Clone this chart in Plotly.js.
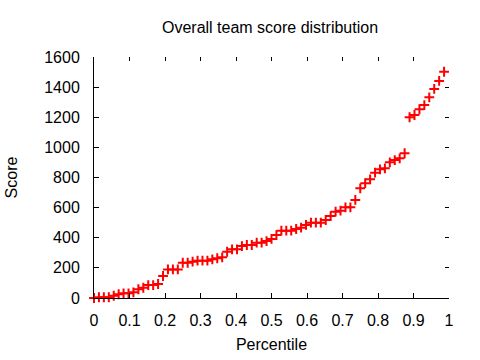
<!DOCTYPE html>
<html>
<head>
<meta charset="utf-8">
<script src="https://cdn.plot.ly/plotly-3.0.1.min.js"></script>
<style>html,body{margin:0;padding:0;background:#fff;}#chart{width:480px;height:360px;}</style>
</head>
<body>
<div id="chart"></div>
<script>
// Number of teams (points); percentile = index / count
const teamCount = 72;
const scores = [
  0, 5, 5, 5, 15, 25, 31, 31, 38, 58,
  68, 86, 86, 93, 146, 190, 190, 190, 234, 234,
  241, 248, 248, 248, 257, 264, 270, 307, 323, 323,
  345, 352, 352, 367, 367, 378, 392, 418, 447, 447,
  447, 458, 467, 485, 500, 500, 500, 518, 544, 573,
  580, 602, 602, 651, 728, 762, 788, 832, 854, 861,
  901, 916, 927, 961, 1200, 1215, 1253, 1281, 1332, 1388,
  1441, 1502
];
const percentiles = scores.map((_, i) => i / teamCount);

const xTickVals = [0, 0.1, 0.2, 0.3, 0.4, 0.5, 0.6, 0.7, 0.8, 0.9, 1];
const xTickText = ["0", "0.1", "0.2", "0.3", "0.4", "0.5", "0.6", "0.7", "0.8", "0.9", "1"];
const yTickVals = [0, 200, 400, 600, 800, 1000, 1200, 1400, 1600];
const yTickText = ["0", "200", "400", "600", "800", "1000", "1200", "1400", "1600"];

const font = "Liberation Sans, Arial, Helvetica, sans-serif";

const trace = {
  x: percentiles, y: scores,
  type: "scatter", mode: "markers",
  marker: {symbol: "cross-thin", size: 7, color: "#ff0000", line: {color: "#ff0000", width: 2}},
  cliponaxis: false, showlegend: false
};

// Same data on the mirrored (top/right) tick axes, transparent, so those axes are drawn
const mirrorTrace = {
  x: percentiles, y: scores,
  xaxis: "x2", yaxis: "y2",
  type: "scatter", mode: "markers",
  marker: {size: 1, color: "rgba(0,0,0,0)"},
  hoverinfo: "skip", showlegend: false
};

const layout = {
  width: 480, height: 360,
  margin: {l: 94, r: 31, t: 57, b: 62},
  paper_bgcolor: "#ffffff", plot_bgcolor: "#ffffff",
  font: {family: font, size: 16, color: "#000000"},
  title: {text: "Overall team score distribution", font: {family: font, size: 16, color: "#000000"},
          x: 0.5625, xanchor: "center", y: 0.925, yanchor: "middle"},
  xaxis: {
    range: [0, 1], tickmode: "array", tickvals: xTickVals, ticktext: xTickText,
    ticks: "inside", ticklen: 5, tickwidth: 1, tickcolor: "#000",
    showline: true, linecolor: "#000", linewidth: 1,
    showgrid: false, zeroline: false, ticklabelstandoff: 8,
    title: {text: "Percentile", font: {family: font, size: 16}, standoff: 10}
  },
  yaxis: {
    range: [0, 1600], tickmode: "array", tickvals: yTickVals, ticktext: yTickText,
    ticks: "inside", ticklen: 5, tickwidth: 1, tickcolor: "#000",
    showline: true, linecolor: "#000", linewidth: 1,
    showgrid: false, zeroline: false, ticklabelstandoff: 10,
    title: {text: "Score", font: {family: font, size: 16}, standoff: 22}
  },
  xaxis2: {
    overlaying: "x", side: "top", range: [0, 1], tickmode: "array", tickvals: xTickVals,
    ticks: "inside", ticklen: 4, tickwidth: 1, tickcolor: "#000",
    showticklabels: false, showline: false, showgrid: false, zeroline: false
  },
  yaxis2: {
    overlaying: "y", side: "right", range: [0, 1600], tickmode: "array", tickvals: yTickVals,
    ticks: "inside", ticklen: 4, tickwidth: 1, tickcolor: "#000",
    showticklabels: false, showline: false, showgrid: false, zeroline: false
  }
};

Plotly.newPlot("chart", [trace, mirrorTrace], layout, {staticPlot: true, displayModeBar: false});
</script>
</body>
</html>
